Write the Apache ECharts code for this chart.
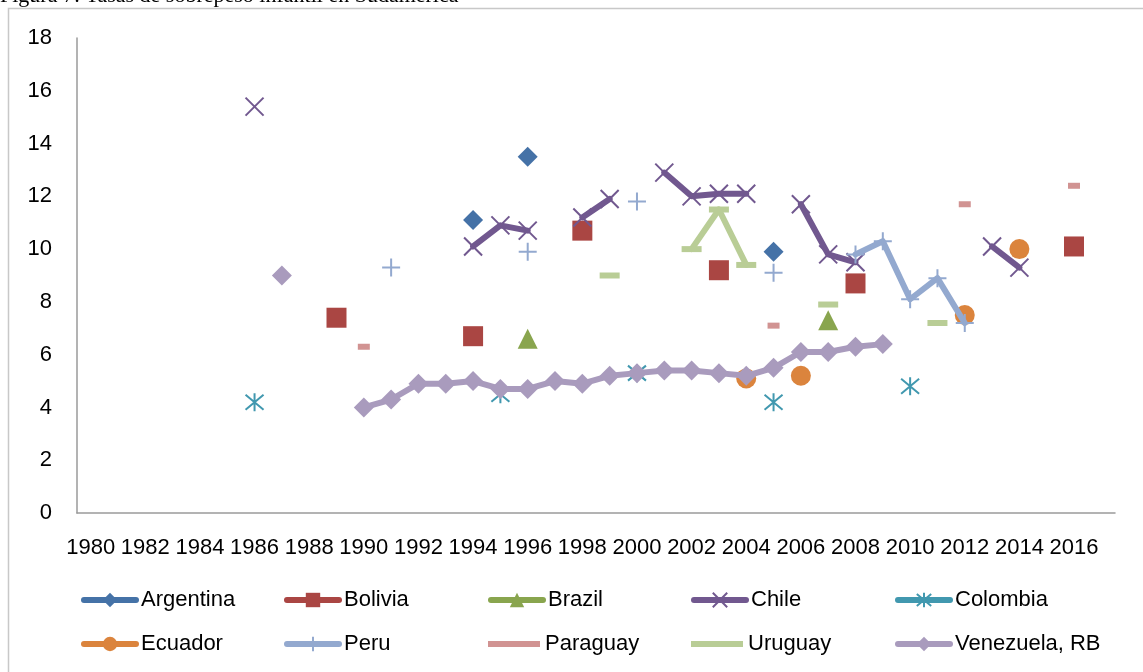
<!DOCTYPE html>
<html>
<head>
<meta charset="utf-8">
<script src="https://cdn.jsdelivr.net/npm/echarts@6/dist/echarts.min.js"></script>
<style>
html,body{margin:0;padding:0;background:#fff;}
#chart{width:1143px;height:672px;}
</style>
</head>
<body>
<div id="chart"></div>
<script>
// Years 1980..2017
const years = [];
for (let y = 1980; y <= 2017; y++) years.push(String(y));

const seriesNames = ['Argentina','Bolivia','Brazil','Chile','Colombia','Ecuador','Peru','Paraguay','Uruguay','Venezuela, RB'];

// values given as [year, value] pairs
const argentina = [[1994,11.1],[1996,13.5],[2005,9.9]];
const bolivia   = [[1989,7.4],[1994,6.7],[1998,10.7],[2003,9.2],[2008,8.7],[2016,10.1]];
const brazil    = [[1996,6.6],[2007,7.3]];
const chile     = [[1986,15.4],[1994,10.1],[1995,10.9],[1996,10.7],[1998,11.2],[1999,11.9],[2001,12.9],[2002,12.0],[2003,12.1],[2004,12.1],[2006,11.7],[2007,9.8],[2008,9.5],[2013,10.1],[2014,9.3]];
const colombia  = [[1986,4.2],[1995,4.5],[2000,5.3],[2005,4.2],[2010,4.8]];
const ecuador   = [[2004,5.1],[2006,5.2],[2012,7.5],[2014,10.0]];
const peru      = [[1991,9.3],[1996,9.9],[2000,11.8],[2005,9.1],[2008,9.8],[2009,10.3],[2010,8.1],[2011,8.9],[2012,7.2]];
const paraguay  = [[1990,6.3],[2005,7.1],[2012,11.7],[2016,12.4]];
const uruguay   = [[1999,9.0],[2002,10.0],[2003,11.5],[2004,9.4],[2007,7.9],[2011,7.2]];
const venezuela = [[1987,9.0],[1990,4.0],[1991,4.3],[1992,4.9],[1993,4.9],[1994,5.0],[1995,4.7],[1996,4.7],[1997,5.0],[1998,4.9],[1999,5.2],[2000,5.3],[2001,5.4],[2002,5.4],[2003,5.3],[2004,5.2],[2005,5.5],[2006,6.1],[2007,6.1],[2008,6.3],[2009,6.4]];

const yTicks = { min: 0, max: 18, interval: 2 };

function toSeriesData(pairs) {
  const arr = years.map(() => null);
  pairs.forEach(([y, v]) => { arr[y - 1980] = v; });
  return arr;
}

const colors = ['#4572A7','#AA4643','#89A54E','#71588F','#4198AF','#DB843D','#93A9CF','#D19392','#B9CD96','#A99BBD'];
const dataList = [argentina,bolivia,brazil,chile,colombia,ecuador,peru,paraguay,uruguay,venezuela];

const X_PATH = 'path://M0,0L10,10M10,0L0,10';
const AST_PATH = 'path://M0,0L10,10M10,0L0,10M5,-1L5,11';
const PLUS_PATH = 'path://M5,0L5,10M0,5L10,5';

const symbols = [
  {symbol:'diamond', size:20, bw:0},
  {symbol:'rect', size:20, bw:0},
  {symbol:'triangle', size:20, bw:0},
  {symbol:X_PATH, size:18, bw:2},
  {symbol:AST_PATH, size:18, bw:2},
  {symbol:'circle', size:20, bw:0},
  {symbol:PLUS_PATH, size:18, bw:2},
  {symbol:'rect', size:[12,6], bw:0},
  {symbol:'rect', size:[20,6], bw:0},
  {symbol:'diamond', size:20, bw:0}
];

const FONT = 'Liberation Sans';

const series = seriesNames.map((name, i) => ({
  name: name,
  type: 'line',
  data: toSeriesData(dataList[i]),
  connectNulls: false,
  showAllSymbol: true,
  symbol: symbols[i].symbol,
  symbolSize: symbols[i].size,
  color: colors[i],
  itemStyle: { color: colors[i], borderColor: colors[i], borderWidth: symbols[i].bw },
  lineStyle: { color: colors[i], width: 6, cap: 'round', join: 'round' },
  emphasis: { disabled: true },
  z: 2 + i
}));

const legendLeft = [81, 284, 488, 691, 895];
const legends = seriesNames.map((name, i) => {
  const plainLine = (name === 'Paraguay' || name === 'Uruguay');
  return {
    data: plainLine ? [{ name: name, icon: 'rect' }] : [name],
    left: legendLeft[i % 5],
    top: i < 5 ? 589 : 633,
    padding: 0,
    itemWidth: 52,
    itemHeight: plainLine ? 6 : 18,
    itemGap: 0,
    selectedMode: false,
    lineStyle: { width: 6 },
    textStyle: { fontFamily: FONT, fontSize: 22, color: '#000' }
  };
});

const chart = echarts.init(document.getElementById('chart'), null, { renderer: 'canvas' });
chart.setOption({
  animation: false,
  backgroundColor: '#fff',
  grid: { left: 77, top: 38, right: 28, bottom: 159, containLabel: false },
  xAxis: {
    type: 'category',
    data: years,
    boundaryGap: true,
    axisLine: { lineStyle: { color: '#9a9a9a', width: 1.5 } },
    axisTick: { show: false },
    axisLabel: { interval: 1, fontFamily: FONT, fontSize: 22, color: '#000', margin: 24 },
    splitLine: { show: false }
  },
  yAxis: {
    type: 'value',
    min: yTicks.min, max: yTicks.max, interval: yTicks.interval,
    axisLine: { show: true, lineStyle: { color: '#9a9a9a', width: 1.5 } },
    axisTick: { show: false },
    axisLabel: { fontFamily: FONT, fontSize: 22, color: '#000', margin: 25 },
    splitLine: { show: false }
  },
  legend: legends,
  series: series,
  graphic: [
    { type: 'rect', silent: true, shape: { x: 8.5, y: 8.5, width: 1150, height: 680 },
      style: { fill: 'none', stroke: '#c8c8c8', lineWidth: 1.5 }, z: -1 },
    { type: 'text', silent: true, left: 0, top: -15,
      style: { text: 'Figura 7: Tasas de sobrepeso infantil en Sudamérica', font: '22px "Liberation Serif"', fill: '#000' } }
  ]
});
</script>
</body>
</html>
